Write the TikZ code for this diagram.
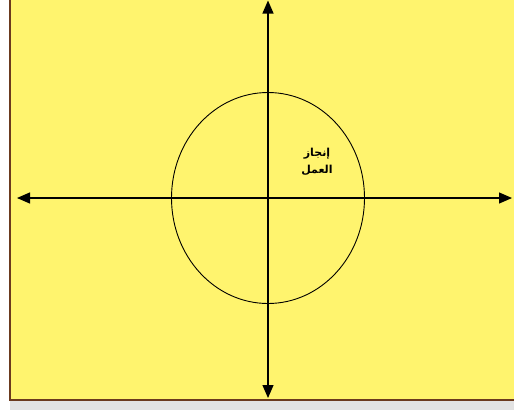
\documentclass[tikz,border=0pt]{standalone}
\usepackage{fontspec}
\usetikzlibrary{arrows.meta,shapes.geometric}
\TeXXeTstate=1
\newfontfamily\arabicfont[Script=Arabic]{DejaVu Sans}
\definecolor{bgyellow}{HTML}{FFF46E}
\definecolor{framebrown}{HTML}{6B3A1E}
\definecolor{shadegray}{HTML}{E2E2E2}
\tikzset{
  axis/.style={line width=1.2pt, black, {Triangle[length=13pt,width=11pt]}-{Triangle[length=13pt,width=11pt]}},
  ring/.style={draw, line width=0.9pt, ellipse, inner sep=0pt, minimum width=193pt, minimum height=211pt},
  lbl/.style={font=\arabicfont\bfseries\fontsize{11}{17}\selectfont, align=center, inner sep=0pt}
}
\begin{document}
\begin{tikzpicture}[x=1pt,y=-1pt]
\useasboundingbox (0,0) rectangle (514,410);
\fill[white] (0,0) rectangle (514,410);
\fill[shadegray] (10,400) rectangle (514,410);
\fill[bgyellow] (10,0) rectangle (514,400);
\draw[framebrown, line width=2pt] (10,0) -- (10,400) -- (514,400);
\coordinate (top) at (268,0.5);
\coordinate (bottom) at (268,398);
\coordinate (left) at (17,198);
\coordinate (right) at (512,198);
\node[ring] (c) at (268,198) {};
\draw[axis] (top) -- (bottom);
\draw[axis] (left) -- (right);
\node[lbl] (t) at (317,162) {\beginR إنجاز\endR\\\beginR العمل\endR};
\end{tikzpicture}
\end{document}
